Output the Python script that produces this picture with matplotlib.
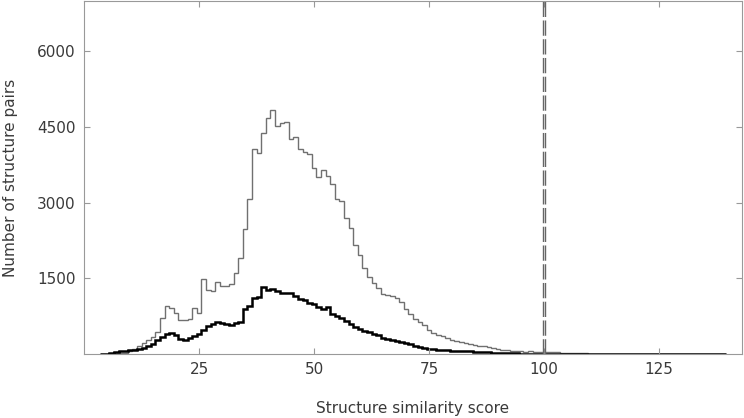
import numpy as np
import matplotlib
matplotlib.use("Agg")
import matplotlib.pyplot as plt

# histogram counts per integer score bin (scores 4..139)
first_score = 4
all_pairs = [
    3, 5, 10, 15, 22, 28, 70, 103, 150, 216,
    269, 335, 435, 720, 946, 905, 815, 681, 681, 700,
    910, 820, 1478, 1279, 1245, 1430, 1358, 1358, 1384, 1597,
    1910, 2474, 3071, 4054, 3980, 4386, 4675, 4845, 4518, 4585,
    4600, 4270, 4310, 4070, 3995, 3968, 3689, 3515, 3641, 3536,
    3365, 3065, 3030, 2700, 2495, 2161, 1970, 1710, 1530, 1410,
    1318, 1190, 1170, 1155, 1120, 1030, 900, 790, 700, 640,
    570, 480, 410, 370, 350, 322, 285, 255, 236, 216,
    200, 180, 165, 150, 130, 115, 100, 90, 80, 70,
    60, 55, 50, 55, 45, 50, 42, 48, 38, 40,
    30, 28, 22, 18, 15, 12, 10, 8, 8, 7,
    7, 6, 6, 5, 5, 5, 4, 4, 4, 4,
    3, 3, 3, 3, 3, 2, 2, 2, 2, 2,
    2, 1, 1, 1, 1, 1,
]
subset_pairs = [
    2, 6, 30, 45, 55, 65, 75, 90, 105, 116,
    150, 203, 269, 335, 402, 418, 382, 302, 282, 322,
    355, 402, 468, 554, 601, 634, 614, 588, 581, 614,
    634, 890, 946, 1120, 1135, 1320, 1270, 1290, 1240, 1210,
    1210, 1200, 1150, 1085, 1070, 1005, 990, 925, 900, 925,
    790, 760, 710, 660, 595, 545, 505, 455, 445, 405,
    370, 325, 305, 275, 255, 236, 216, 203, 169, 136,
    123, 103, 92, 88, 80, 78, 70, 68, 60, 58,
    52, 48, 44, 40, 35, 30, 25, 22, 18, 15,
    12, 10, 10, 8, 8, 7, 7, 6, 6, 5,
    5, 4, 4, 4, 4, 3, 3, 3, 3, 3,
    3, 2, 2, 2, 2, 2, 2, 2, 2, 2,
    2, 1, 1, 1, 1, 1, 1, 1, 1, 1,
    1, 1, 1, 1, 1, 1,
]
threshold = 100
xticks = [25, 50, 75, 100, 125]
yticks = [1500, 3000, 4500, 6000]

edges = np.arange(len(all_pairs) + 1) + first_score - 0.5

plt.rcParams['font.family'] = 'DejaVu Sans'
fig = plt.figure(figsize=(7.44, 4.18), dpi=100)
ax = fig.add_axes([0.113, 0.153, 0.884, 0.845])

ax.stairs(all_pairs, edges, color='#707070', lw=1.0)
ax.stairs(subset_pairs, edges, color='black', lw=1.8)

# threshold marker drawn as a doubled dashed line
for dx in (-0.3, 0.3):
    ax.axvline(threshold + dx, color='#666666', lw=1.0, linestyle=(0, (11, 2.5)))

ax.set_xlim(0, 143)
ax.set_ylim(0, 7000)
ax.set_xticks(xticks)
ax.set_yticks(yticks)

for s in ax.spines.values():
    s.set_color('#999999')
ax.tick_params(direction='in', length=4, color='#999999', labelsize=11,
               labelcolor='#3a3a3a', top=True, right=True, pad=6)

ax.set_xlabel('Structure similarity score', fontsize=11, color='#3a3a3a', labelpad=17)
ax.set_ylabel('Number of structure pairs', fontsize=11, color='#3a3a3a', labelpad=14)

fig.savefig('out.png', dpi=100)
